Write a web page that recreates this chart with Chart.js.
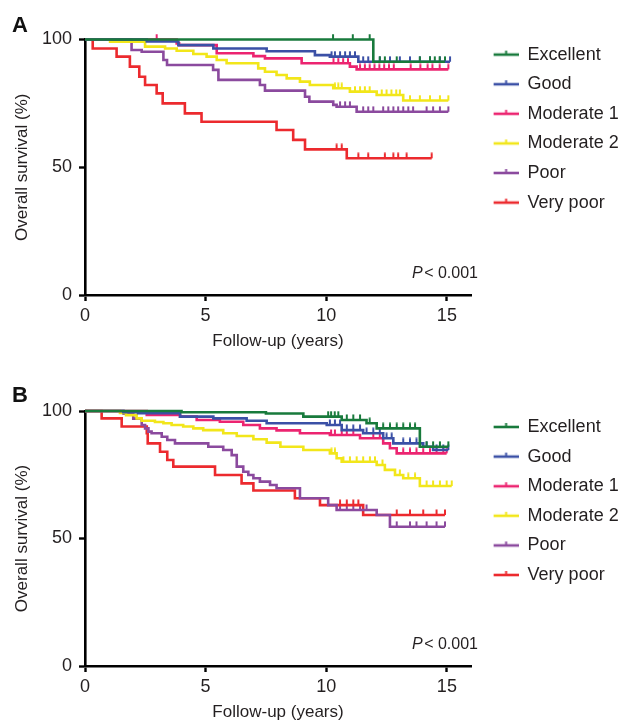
<!DOCTYPE html>
<html><head><meta charset="utf-8">
<script src="https://cdn.jsdelivr.net/npm/chart.js@4"></script>
<style>
html,body{margin:0;padding:0;background:#fff;}
#wrap{position:relative;width:624px;height:723px;overflow:hidden;}
#ca{position:absolute;left:0;top:0;}
#cb{position:absolute;left:0;top:360px;}
</style></head><body>
<div id="wrap"><canvas id="ca" width="624" height="360"></canvas><canvas id="cb" width="624" height="363"></canvas></div>
<script>
const groups = ['Excellent', 'Good', 'Moderate 1', 'Moderate 2', 'Poor', 'Very poor'];
const groupColors = ['#187a3c', '#3b50a6', '#ec2470', '#f2e61a', '#8b4a9e', '#ec2a2e'];
const xTicks = [0, 5, 10, 15];
const yTicks = [0, 50, 100];
const pText = 'P < 0.001';

// ---- Panel A: step times (years), survival (%), censor times ----
const aExcellentT = [0, 11.95, 14.92];
const aExcellentS = [100, 91.3, 91.3];
const aExcellentC = [10.28, 11.1, 11.8, 12.22, 12.43, 12.92, 13.88, 14.3, 14.5, 14.7, 14.92];

const aGoodT = [0, 2.56, 3.87, 5.32, 7.53, 9.53, 10.15, 11.33, 15.13];
const aGoodS = [100, 99.2, 97.8, 96.5, 95.4, 93.9, 93.3, 91.3, 91.3];
const aGoodC = [10.22, 10.36, 10.57, 10.78, 10.98, 11.19, 11.53, 11.74, 12.22, 12.64, 13.05, 13.47, 13.88, 14.3, 14.71, 15.13];

const aMod1T = [0, 3.8, 3.9, 5.46, 6.98, 7.46, 8.98, 10.98, 11.26, 15.06];
const aMod1S = [100, 98.5, 97.8, 94.6, 93.5, 92.6, 90.7, 89.4, 88.3, 88.3];
const aMod1C = [2.97, 10.3, 10.5, 10.7, 10.9, 11.4, 11.6, 11.8, 12.0, 12.2, 12.4, 12.6, 12.8, 13.5, 13.9, 14.2, 14.4, 14.7, 15.06];

const aMod2T = [0, 1.04, 2.49, 3.32, 3.8, 4.49, 5.04, 5.46, 5.87, 7.18, 7.46, 7.94, 8.36, 8.91, 9.32, 10.29, 10.98, 12.09, 13.19, 15.06];
const aMod2S = [100, 99.1, 97.2, 96.5, 95.6, 94.3, 93.3, 92, 90.7, 88.7, 87.4, 86.1, 84.8, 83.5, 82.2, 80.9, 79.6, 78.3, 76.1, 76.1];
const aMod2C = [10.36, 10.5, 10.64, 11.19, 11.4, 11.6, 11.8, 12.3, 12.5, 12.7, 12.9, 13.05, 13.47, 13.88, 14.3, 14.71, 15.06];

const aPoorT = [0, 1.93, 2.35, 3.25, 3.4, 5.31, 5.53, 7.25, 7.46, 9.12, 9.3, 10.29, 10.43, 11.26, 15.06];
const aPoorS = [100, 95.9, 95.2, 92, 90, 88.1, 84.2, 82.2, 80, 77.6, 75.7, 74.4, 73.7, 71.7, 71.7];
const aPoorC = [10.57, 10.78, 10.98, 11.53, 11.74, 11.95, 12.36, 12.57, 12.78, 12.98, 13.19, 13.4, 13.6, 14.16, 14.43, 14.71, 15.06];

const aVeryPoorT = [0, 0.32, 1.31, 1.86, 2.25, 2.49, 2.97, 3.22, 4.14, 4.83, 7.94, 8.63, 9.12, 10.85, 14.37];
const aVeryPoorS = [100, 96.5, 93.3, 89.4, 85.4, 82.2, 78.9, 75, 71.1, 67.8, 64.6, 60.7, 57, 53.5, 53.5];
const aVeryPoorC = [10.43, 10.64, 11.33, 11.74, 12.43, 12.78, 12.98, 13.33, 14.37];

// ---- Panel B ----
const bExcellentT = [0, 4.0, 7.5, 9.05, 10.64, 11.67, 12.09, 13.88, 15.06];
const bExcellentS = [100, 99.5, 99.0, 97.8, 96.5, 95.2, 93.2, 86, 86];
const bExcellentC = [10.08, 10.2, 10.35, 10.5, 10.85, 11.12, 11.4, 11.8, 12.36, 12.64, 12.92, 13.19, 13.47, 13.68, 14.16, 14.43, 14.71, 15.06];

const bGoodT = [0, 1.59, 2.2, 3.94, 5.32, 6.7, 7.53, 10.02, 10.64, 11.53, 12.36, 12.78, 14.02, 14.43, 15.06];
const bGoodS = [100, 99.5, 99.1, 97.8, 97.1, 96.2, 95.2, 94.5, 92.5, 91.3, 89.3, 87.3, 86, 84.7, 84.7];
const bGoodC = [10.15, 10.36, 10.57, 10.85, 11.12, 11.4, 11.67, 11.95, 12.22, 12.5, 12.71, 13.19, 13.47, 13.74, 14.16, 14.57, 14.85, 15.06];

const bMod1T = [0, 2.56, 3.94, 4.63, 5.59, 6.56, 7.25, 7.94, 8.91, 10.15, 11.4, 12.36, 12.64, 12.92, 14.99];
const bMod1S = [100, 98.5, 97.8, 96.5, 95.8, 94.5, 93.2, 92.4, 91.3, 90.6, 89.3, 87.3, 85.4, 83.4, 83.4];
const bMod1C = [10.2, 10.36, 10.64, 10.85, 11.12, 11.95, 12.22, 13.19, 13.47, 13.74, 14.02, 14.3, 14.57, 14.85, 14.99];

const bMod2T = [0, 1.45, 1.7, 2.14, 2.35, 2.9, 3.25, 3.59, 4.07, 4.49, 4.9, 5.73, 6.29, 6.98, 7.53, 8.1, 9.05, 10.15, 10.43, 10.64, 12.09, 12.43, 12.85, 13.19, 13.88, 15.2];
const bMod2S = [100, 99.2, 98.4, 97.1, 96.2, 95.7, 95.2, 94.5, 93.9, 93.2, 92.5, 91.3, 90.2, 88.9, 87.6, 86, 84.7, 83.4, 81.5, 80.1, 78.8, 76.9, 74.9, 73.6, 70.6, 70.6];
const bMod2C = [10.22, 10.36, 10.71, 10.98, 11.26, 11.53, 11.81, 12.02, 12.33, 13.05, 13.4, 13.68, 14.16, 14.43, 14.71, 14.99, 15.2];

const bPoorT = [0, 1.6, 2.0, 2.35, 2.49, 2.63, 2.76, 3.18, 3.41, 3.73, 5.11, 5.73, 6.08, 6.29, 6.56, 6.77, 6.98, 7.25, 7.67, 7.94, 8.91, 10.08, 10.43, 12.09, 12.64, 14.92];
const bPoorS = [100, 98.9, 97, 94.5, 93.2, 91.9, 91.3, 89.9, 88.6, 87.3, 86, 84.7, 82.7, 78.2, 76.2, 74.9, 73.6, 72.3, 71, 69.7, 65.8, 63.1, 61.2, 59.2, 54.6, 54.6];
const bPoorC = [10.57, 10.85, 11.12, 11.4, 11.67, 12.92, 13.47, 13.74, 14.16, 14.57, 14.92];

const bVeryPoorT = [0, 0.69, 1.52, 2.56, 2.6, 3.11, 3.41, 3.66, 5.39, 6.49, 6.98, 8.7, 9.74, 11.53, 14.92];
const bVeryPoorS = [100, 97.1, 93.9, 91.3, 87.3, 84, 80.8, 78.2, 74.9, 71.6, 68.8, 65.8, 63.1, 59.2, 59.2];
const bVeryPoorC = [10.57, 10.85, 11.12, 11.33, 12.92, 13.47, 14.02, 14.57, 14.92];

const FONT = "'Liberation Sans', Arial, Helvetica, sans-serif";
const TEXT = '#231f20';

function censorImg(color) {
  const c = document.createElement('canvas');
  c.width = 4; c.height = 12;
  const g = c.getContext('2d');
  g.strokeStyle = color; g.lineWidth = 2;
  g.beginPath(); g.moveTo(2, 0.5); g.lineTo(2, 6); g.stroke();
  return c;
}
function legendImg(color) {
  const c = document.createElement('canvas');
  c.width = 36; c.height = 12;
  const g = c.getContext('2d');
  g.strokeStyle = color; g.lineWidth = 2.6;
  g.beginPath(); g.moveTo(11, 6); g.lineTo(36, 6); g.stroke();
  g.lineWidth = 2;
  g.beginPath(); g.moveTo(23.5, 6); g.lineTo(23.5, 2); g.stroke();
  return c;
}
function survAt(t, s, x) {
  let v = s[0];
  for (let i = 0; i < t.length; i++) if (t[i] <= x) v = s[i];
  return v;
}

const pPlugin = {
  id: 'pvalue',
  afterDraw(chart) {
    const ctx = chart.ctx, a = chart.chartArea;
    const x = a.right - 59, y = a.bottom - 17;
    ctx.save();
    ctx.fillStyle = TEXT;
    ctx.textBaseline = 'alphabetic';
    ctx.textAlign = 'left';
    ctx.font = 'italic 16px ' + FONT;
    const parts = pText.split(' ');
    ctx.fillText(parts[0], x, y);
    const w = ctx.measureText(parts[0]).width;
    ctx.font = '16px ' + FONT;
    ctx.fillText(parts.slice(1).join(' '), x + w + 1.5, y);
    ctx.restore();
  }
};

function makePanel(id, label, series, cfg) {
  const datasets = [];
  series.forEach((sr, i) => {
    datasets.push({
      label: groups[i],
      data: sr.t.map((x, k) => ({x: x, y: sr.s[k]})),
      borderColor: groupColors[i],
      backgroundColor: groupColors[i],
      borderWidth: 2.6,
      stepped: true,
      fill: false,
      pointRadius: 0,
      pointHoverRadius: 0,
      pointStyle: legendImg(groupColors[i]),
      clip: false
    });
  });
  series.forEach((sr, i) => {
    datasets.push({
      label: groups[i] + ' censored',
      data: sr.c.map(x => ({x: x, y: survAt(sr.t, sr.s, x)})),
      showLine: false,
      borderColor: groupColors[i],
      backgroundColor: groupColors[i],
      pointStyle: censorImg(groupColors[i]),
      pointRadius: 3,
      pointHoverRadius: 3,
      clip: false
    });
  });
  const H = cfg.height;
  return new Chart(document.getElementById(id), {
    type: 'line',
    data: {datasets: datasets},
    plugins: [pPlugin],
    options: {
      responsive: false,
      animation: false,
      events: [],
      layout: {padding: {top: cfg.padTop, left: 12, right: 0, bottom: 0}},
      plugins: {
        tooltip: {enabled: false},
        title: {
          display: true, text: label, align: 'start', color: '#111',
          font: {family: FONT, size: 22, weight: 'bold'},
          padding: {top: cfg.titlePadTop, bottom: cfg.titlePadBottom}
        },
        legend: {
          display: true, position: 'right', align: 'start', maxWidth: 153,
          labels: {
            usePointStyle: true, pointStyleWidth: 36, padding: 11.6,
            color: TEXT, font: {family: FONT, size: 18},
            filter: (item) => item.datasetIndex < groups.length
          }
        }
      },
      scales: {
        x: {
          type: 'linear', min: 0, max: 16,
          afterBuildTicks: (s) => { s.ticks = xTicks.map(v => ({value: v})); },
          afterFit: (s) => { s.height = H - cfg.bottom; },
          ticks: {color: TEXT, font: {family: FONT, size: 18}, padding: 4, maxRotation: 0},
          grid: {display: true, drawOnChartArea: false, drawTicks: true, tickLength: 6, tickWidth: 2.4, tickColor: '#000'},
          border: {display: true, color: '#000', width: 2.6},
          title: {display: true, text: 'Follow-up (years)', color: TEXT, font: {family: FONT, size: 17}, padding: {top: 4, bottom: cfg.xTitlePadBottom}}
        },
        y: {
          type: 'linear', min: 0, max: 100,
          afterBuildTicks: (s) => { s.ticks = yTicks.map(v => ({value: v})); },
          afterFit: (s) => { s.width = 85 - 12; },
          ticks: {color: TEXT, font: {family: FONT, size: 18}, padding: 7},
          grid: {display: true, drawOnChartArea: false, drawTicks: true, tickLength: 6, tickWidth: 2.4, tickColor: '#000'},
          border: {display: true, color: '#000', width: 2.6},
          title: {display: true, text: 'Overall survival (%)', color: TEXT, font: {family: FONT, size: 17}, padding: {top: 0, bottom: 0}}
        }
      }
    }
  });
}

makePanel('ca', 'A', [
  {t: aExcellentT, s: aExcellentS, c: aExcellentC},
  {t: aGoodT, s: aGoodS, c: aGoodC},
  {t: aMod1T, s: aMod1S, c: aMod1C},
  {t: aMod2T, s: aMod2S, c: aMod2C},
  {t: aPoorT, s: aPoorS, c: aPoorC},
  {t: aVeryPoorT, s: aVeryPoorS, c: aVeryPoorC}
], {height: 360, bottom: 295, padTop: 34, titlePadTop: -21.6, titlePadBottom: 0.7, xTitlePadBottom: 8});

makePanel('cb', 'B', [
  {t: bExcellentT, s: bExcellentS, c: bExcellentC},
  {t: bGoodT, s: bGoodS, c: bGoodC},
  {t: bMod1T, s: bMod1S, c: bMod1C},
  {t: bMod2T, s: bMod2S, c: bMod2C},
  {t: bPoorT, s: bPoorS, c: bPoorC},
  {t: bVeryPoorT, s: bVeryPoorS, c: bVeryPoorC}
], {height: 363, bottom: 306, padTop: 46.4, titlePadTop: -23.3, titlePadBottom: 1.5, xTitlePadBottom: 0});
</script>
</body></html>
